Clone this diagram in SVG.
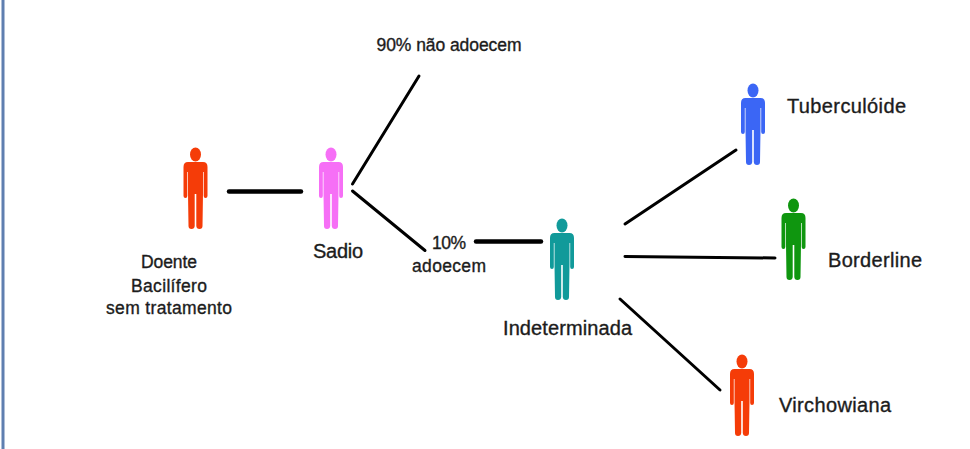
<svg xmlns="http://www.w3.org/2000/svg" width="970" height="449" viewBox="0 0 970 449">
<style>
text{font-family:"Liberation Sans",Arial,sans-serif;fill:#1c1c1c;stroke:#1c1c1c;stroke-width:.35px}
.s{font-size:17.500px;text-anchor:middle}
.m{font-size:20px;text-anchor:middle}
.l{font-size:20px}
.c line{stroke:#000;stroke-width:3;stroke-linecap:round}
.c .t{stroke-width:4.5}
</style>
<defs>
<g id="person">
<ellipse cx="0" cy="7.5" rx="5.5" ry="7"/>
<path d="M-7.5,15H7.5Q12,15 12,20V49Q12,51 10,51Q8.200,51 8.200,49V25H7.500V46.500L7,79Q7,82 4,82Q1,82 .800,79V47H-.800V79Q-1,82 -4,82Q-7,82 -7,79L-7.500,46.500V25H-8.200V49Q-8.200,51 -10,51Q-12,51 -12,49V20Q-12,15 -7.500,15Z"/>
</g>
</defs>
<rect width="970" height="449" fill="#fff"/>
<rect x="3" y="-3" width="970" height="460" fill="none" stroke="#5f7fb0" stroke-width="3"/>
<g id="connectors" class="c">
<line class="t" x1="229" y1="191.500" x2="301" y2="191.500"/>
<line x1="352.500" y1="184" x2="419" y2="76"/>
<line x1="352.500" y1="191" x2="425" y2="250.500"/>
<line class="t" x1="476" y1="241.500" x2="541" y2="241.500"/>
<line x1="625" y1="224" x2="736" y2="150"/>
<line x1="625" y1="256.500" x2="775" y2="258"/>
<line x1="620" y1="299" x2="720" y2="390"/>
</g>
<g id="doente"><use href="#person" x="195.500" y="147" fill="#f53c08"/>
<text class="s" x="169" y="268" textLength="56">Doente</text><text class="s" x="169" y="292" textLength="76">Bacilífero</text><text class="s" x="169" y="314" textLength="126">sem tratamento</text></g>
<g id="sadio"><use href="#person" x="331" y="147" fill="#f66ff6"/><text class="m" x="338" y="258" textLength="50">Sadio</text></g>
<g id="nao-adoecem"><text class="s" x="449" y="51" textLength="145">90% não adoecem</text></g>
<g id="adoecem"><text class="s" x="449" y="249" textLength="34">10%</text><text class="s" x="449" y="272" textLength="74">adoecem</text></g>
<g id="indeterminada"><use href="#person" x="562" y="218" fill="#119a9a"/><text class="m" x="567.500" y="335" textLength="129">Indeterminada</text></g>
<g id="tuberculoide"><use href="#person" x="753" y="83" fill="#3b66f5"/><text class="l" x="787" y="113" textLength="119">Tuberculóide</text></g>
<g id="borderline"><use href="#person" x="793.500" y="198" fill="#0f960f"/><text class="l" x="828" y="267" textLength="94">Borderline</text></g>
<g id="virchowiana"><use href="#person" x="742" y="354" fill="#f53c08"/><text class="l" x="779" y="412" textLength="112">Virchowiana</text></g>
</svg>
